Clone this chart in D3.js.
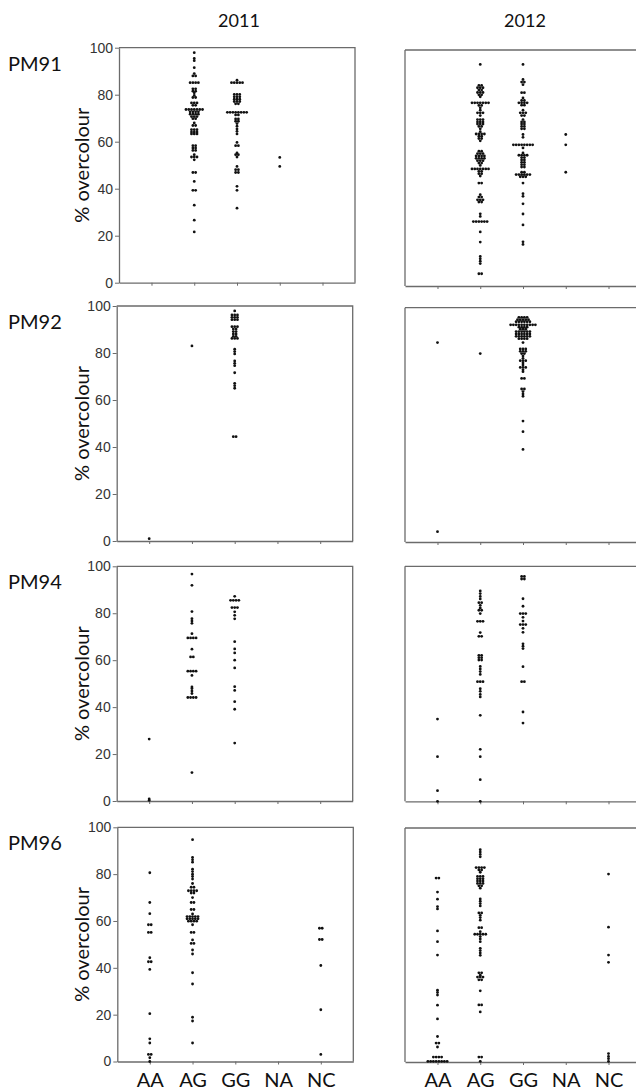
<!DOCTYPE html>
<html><head><meta charset="utf-8">
<script src="https://cdn.jsdelivr.net/npm/d3@7"></script>
<style>body{margin:0;background:#fff} svg{display:block}</style>
</head><body>
<svg id="c" width="636" height="1092"></svg>
<script>
const genotypes = ["AA","AG","GG","NA","NC"];
const years = ["2011","2012"];
const markers = ["PM91","PM92","PM94","PM96"];
const yTicks = [0,20,40,60,80,100];

// ---- PM91 ----
const PM91_2011_AA = [];
const PM91_2011_AG = [97.9,95.4,94.5,91.5,89.0,88.0,88.0,85.1,85.1,85.1,85.1,82.5,82.5,81.5,81.5,80.8,79.7,78.8,78.8,
  76.5,76.5,76.5,75.5,75.5,73.7,73.7,73.7,73.7,73.7,73.7,73.7,72.7,72.7,72.7,72.7,71.7,71.7,71.7,71.7,70.7,70.7,70.7,69.8,69.8,
  68.0,66.9,66.9,65.1,65.1,65.1,64.1,64.1,64.1,63.3,63.3,63.3,58.3,58.3,57.3,57.3,56.3,56.3,54.5,53.5,53.5,53.5,52.3,
  46.9,46.9,43.1,39.3,39.3,33.0,26.6,21.6];
const PM91_2011_GG = [86.2,85.1,85.1,85.1,85.1,85.1,80.1,80.1,80.1,79.1,79.1,79.1,78.1,78.1,78.1,77.1,77.1,77.1,76.1,76.1,
  72.5,72.5,72.5,72.5,72.5,72.5,72.5,72.5,71.4,71.4,69.7,69.7,68.7,68.7,67.7,66.6,65.4,64.4,63.3,59.7,58.3,58.3,
  55.2,54.5,54.5,53.5,49.5,48.1,48.1,46.9,46.9,41.0,39.3,31.7];
const PM91_2011_NA = [53.3,49.5];
const PM91_2011_NC = [];

const PM91_2012_AA = [];
const PM91_2012_AG = [93.9,85.0,85.0,84.0,84.0,84.0,83.0,83.0,82.0,82.0,82.0,81.0,81.0,80.2,
  77.6,77.6,77.6,77.6,77.6,77.6,77.6,76.5,76.5,75.5,74.5,73.4,73.4,73.4,72.2,
  70.5,70.5,70.5,69.5,69.5,69.5,68.6,68.6,68.6,67.6,67.6,66.6,65.4,64.4,64.4,64.4,64.4,63.5,63.5,62.5,62.5,61.5,
  57.1,57.1,56.1,56.1,56.1,55.1,55.1,55.1,55.1,54.1,54.1,54.1,54.1,53.1,53.1,53.1,52.1,52.1,51.1,
  49.6,49.6,49.6,49.6,49.6,49.6,49.6,48.6,48.6,47.6,47.6,46.6,43.6,43.6,
  38.7,37.7,37.7,36.5,36.5,36.5,35.6,35.6,30.6,29.5,27.3,27.3,27.3,27.3,27.3,27.3,
  22.9,18.6,12.5,11.5,10.5,9.5,5.2,5.2];
const PM91_2012_GG = [93.9,87.5,86.4,86.4,85.3,81.9,81.9,79.7,78.6,78.6,77.6,77.6,77.6,77.6,76.6,76.6,
  74.5,73.4,73.4,73.4,72.2,72.2,70.5,69.5,69.5,68.6,68.6,67.6,67.6,66.6,66.6,64.2,63.0,
  59.8,59.8,59.8,59.8,59.8,59.8,59.8,59.8,58.5,56.4,55.4,55.4,55.4,55.4,54.4,54.4,53.4,53.4,52.4,52.4,51.4,51.4,50.4,50.4,
  48.2,48.2,47.2,47.2,47.2,47.2,47.2,47.2,46.3,46.3,46.3,43.6,39.1,38.0,34.8,30.5,25.9,18.7,17.6];
const PM91_2012_NA = [64.2,59.8,48.2];
const PM91_2012_NC = [];

// ---- PM92 ----
const PM92_2011_AA = [1.0];
const PM92_2011_AG = [83.0];
const PM92_2011_GG = [97.9,96.2,96.2,96.2,95.2,95.2,95.2,94.2,94.2,94.2,91.2,91.2,91.2,90.2,90.2,89.1,89.1,88.1,88.1,
  87.1,87.1,86.2,86.2,86.2,81.6,80.6,79.6,76.6,75.6,74.6,71.6,67.1,66.1,65.0,44.4,44.4];
const PM92_2011_NA = [];
const PM92_2011_NC = [];

const PM92_2012_AA = [85.1,4.4];
const PM92_2012_AG = [80.4];
const PM92_2012_GG = [95.9,95.9,95.9,95.9,94.9,94.9,94.9,94.9,94.9,94.0,94.0,94.0,94.0,94.0,94.0,
  92.7,92.7,92.7,92.7,92.7,92.7,92.7,92.7,92.7,92.7,91.7,91.7,91.7,91.7,90.8,90.8,90.8,
  89.8,89.8,89.8,89.8,89.8,89.8,88.8,88.8,88.8,88.8,88.8,88.8,87.8,87.8,87.8,87.8,87.8,87.8,86.8,86.8,86.8,86.8,
  85.1,82.4,82.4,82.4,81.4,81.4,81.4,80.4,80.4,79.4,78.4,77.4,77.4,77.4,76.4,75.5,74.5,74.5,74.5,73.5,72.7,
  69.8,69.8,65.3,65.3,64.2,63.2,62.2,51.6,47.1,39.5];
const PM92_2012_NA = [];
const PM92_2012_NC = [];

// ---- PM94 ----
const PM94_2011_AA = [26.4,0.9,0.3];
const PM94_2011_AG = [96.7,91.9,80.7,77.7,76.7,75.7,71.3,69.5,69.5,69.5,69.5,64.7,61.4,61.4,55.3,55.3,55.3,55.3,53.5,
  48.6,47.9,46.9,45.8,44.1,44.1,44.1,44.1,12.1];
const PM94_2011_GG = [87.2,85.5,85.5,85.5,85.5,82.4,82.4,82.4,80.6,79.1,77.6,67.9,64.8,63.1,60.0,56.7,48.7,47.1,42.3,39.1,24.7];
const PM94_2011_NA = [];
const PM94_2011_NC = [];

const PM94_2012_AA = [35.0,19.0,4.5,0];
const PM94_2012_AG = [89.5,88.4,87.2,86.1,84.5,84.5,83.4,82.3,81.3,81.3,79.9,76.6,76.6,76.6,71.8,70.2,70.2,
  62.1,62.1,61.1,61.1,60.1,60.1,57.4,56.3,55.2,54.0,50.9,50.9,50.9,47.9,46.8,45.5,44.4,36.6,22.1,19.0,9.2,0];
const PM94_2012_GG = [95.7,95.7,94.6,94.6,86.2,83.0,79.9,79.9,79.9,78.3,76.7,75.2,75.2,75.2,73.6,71.9,
  67.0,66.0,65.0,57.3,50.9,50.9,38.0,33.3];
const PM94_2012_NA = [];
const PM94_2012_NC = [];

// ---- PM96 ----
const PM96_2011_AA = [80.6,67.9,63.1,58.4,58.4,55.1,55.1,44.3,42.6,42.6,39.3,20.4,9.7,7.9,3.0,3.0,1.6,0];
const PM96_2011_AG = [94.7,87.1,86.1,85.1,82.1,81.1,80.0,79.0,77.9,76.0,74.4,74.4,72.9,72.9,72.9,72.9,71.9,71.9,70.0,
  67.9,67.9,64.9,64.9,63.0,61.9,61.9,61.9,61.9,61.9,60.9,60.9,60.9,60.9,60.9,59.9,59.9,59.9,59.9,58.4,55.1,55.1,
  51.9,50.4,50.4,47.6,45.9,37.9,33.1,18.9,17.3,7.9];
const PM96_2011_GG = [];
const PM96_2011_NA = [];
const PM96_2011_NC = [56.9,56.9,52.1,52.1,41.0,22.1,3.0];

const PM96_2012_AA = [78.6,78.6,72.6,69.6,66.4,65.4,56.0,51.4,45.7,30.7,29.7,28.6,24.3,18.4,10.9,8.1,8.1,6.4,
  2.1,2.1,2.1,2.1,0.3,0.3,0.3,0.3,0.3,0.3,0.3,0.3];
const PM96_2012_AG = [90.7,89.7,88.7,87.7,83.1,83.1,83.1,83.1,82.1,82.1,81.1,79.3,79.3,79.3,78.3,78.3,78.3,
  77.3,77.3,77.3,76.3,76.3,76.3,75.3,75.3,74.3,69.7,68.7,67.7,66.7,63.7,63.7,62.7,61.7,60.6,
  57.4,57.4,55.7,54.6,54.6,54.6,54.6,54.6,53.6,52.6,51.4,48.6,47.6,46.6,45.6,
  38.1,38.1,37.1,36.3,36.3,36.3,35.1,35.1,30.4,24.4,24.4,21.4,2.1,2.1,0.3];
const PM96_2012_GG = [];
const PM96_2012_NA = [];
const PM96_2012_NC = [80.3,57.6,45.7,42.6,3.6,2.4,1.4,0.3];

const panelData = [
  [[PM91_2011_AA,PM91_2011_AG,PM91_2011_GG,PM91_2011_NA,PM91_2011_NC],[PM91_2012_AA,PM91_2012_AG,PM91_2012_GG,PM91_2012_NA,PM91_2012_NC]],
  [[PM92_2011_AA,PM92_2011_AG,PM92_2011_GG,PM92_2011_NA,PM92_2011_NC],[PM92_2012_AA,PM92_2012_AG,PM92_2012_GG,PM92_2012_NA,PM92_2012_NC]],
  [[PM94_2011_AA,PM94_2011_AG,PM94_2011_GG,PM94_2011_NA,PM94_2011_NC],[PM94_2012_AA,PM94_2012_AG,PM94_2012_GG,PM94_2012_NA,PM94_2012_NC]],
  [[PM96_2011_AA,PM96_2011_AG,PM96_2011_GG,PM96_2011_NA,PM96_2011_NC],[PM96_2012_AA,PM96_2012_AG,PM96_2012_GG,PM96_2012_NA,PM96_2012_NC]]
];

// ---- layout ----
const W = 236;
const colX = [[119,116.7,116.7,117.3],[405,405,405,405]];
const rowTop = [[47.7,306,566.3,827.3],[50,307.7,566.3,828]];
const rowBot = [[282.7,541,801,1061.5],[286,542,801.3,1062]];
const dotStep = 2.75, dotR = 1.4;
const axisColor = "#6b6b6b";

const svg = d3.select("#c");

markers.forEach((m, ri) => {
  years.forEach((yr, ci) => {
    const x0 = colX[ci][ri], top = rowTop[ci][ri], bot = rowBot[ci][ri];
    const x = d3.scalePoint().domain(genotypes).range([x0, x0 + W]).padding(0.76);
    const y = d3.scaleLinear().domain([0, 100]).range([bot, top]);
    const g = svg.append("g");

    // frame (top & right)
    g.append("path").attr("d", `M${x0},${top}H${x0 + W}V${bot}`)
      .attr("fill","none").attr("stroke",axisColor).attr("stroke-width",1.3);

    // x axis
    const xa = g.append("g").attr("transform",`translate(0,${bot})`)
      .call(d3.axisBottom(x).tickSize(3).tickSizeOuter(0).tickFormat(ri === 3 ? (d => d) : (() => "")));
    xa.select(".domain").attr("stroke",axisColor).attr("stroke-width",1.3);
    xa.selectAll(".tick line").attr("stroke",axisColor).attr("stroke-width",1);
    xa.selectAll(".tick text").attr("font-family","Lato, 'Open Sans', sans-serif")
      .attr("font-size",20).attr("fill","#111").attr("dy","0.55em").attr("y",14);

    // y axis
    if (ci === 0) {
      const ya = g.append("g").attr("transform",`translate(${x0},0)`)
        .call(d3.axisLeft(y).tickValues(yTicks).tickSize(4).tickSizeOuter(0).tickPadding(2));
      ya.select(".domain").attr("stroke",axisColor).attr("stroke-width",1.3);
      ya.selectAll(".tick line").attr("stroke",axisColor).attr("stroke-width",1);
      ya.selectAll(".tick text").attr("font-family","'Liberation Sans', Arial, sans-serif")
        .attr("font-size",14).attr("fill","#333");
    } else {
      g.append("line").attr("x1",x0).attr("x2",x0).attr("y1",top).attr("y2",bot)
        .attr("stroke",axisColor).attr("stroke-width",1.3);
    }

    // dots: equal values side by side, centred on the genotype
    const dots = [];
    genotypes.forEach((gt, k) => {
      const vals = panelData[ri][ci][k];
      const groups = d3.group(vals, v => v.toFixed(2));
      groups.forEach(arr => {
        const n = arr.length;
        arr.forEach((v, j) => dots.push({gt, v, off: (j - (n - 1) / 2) * dotStep}));
      });
    });
    g.append("g").selectAll("circle").data(dots).join("circle")
      .attr("cx", d => x(d.gt) + d.off)
      .attr("cy", d => y(d.v))
      .attr("r", dotR)
      .attr("fill", "#111");
  });

  // row label
  svg.append("text").attr("x",8).attr("y",rowTop[0][ri] + 23)
    .attr("font-family","Lato, 'Open Sans', sans-serif").attr("font-size",20).attr("fill","#111").text(m);
  // y title
  const cy = (rowTop[0][ri] + rowBot[0][ri]) / 2;
  svg.append("text").attr("transform",`translate(89,${cy}) rotate(-90)`).attr("text-anchor","middle")
    .attr("font-family","Lato, 'Open Sans', sans-serif").attr("font-size",20).attr("fill","#111").text("% overcolour");
});

// year titles
years.forEach((yr, ci) => {
  svg.append("text").attr("x", colX[ci][0] + W / 2 + 2).attr("y", 27).attr("text-anchor","middle")
    .attr("font-family","Lato, 'Open Sans', sans-serif").attr("font-size",18).attr("fill","#111").text(yr);
});
</script>
</body></html>
